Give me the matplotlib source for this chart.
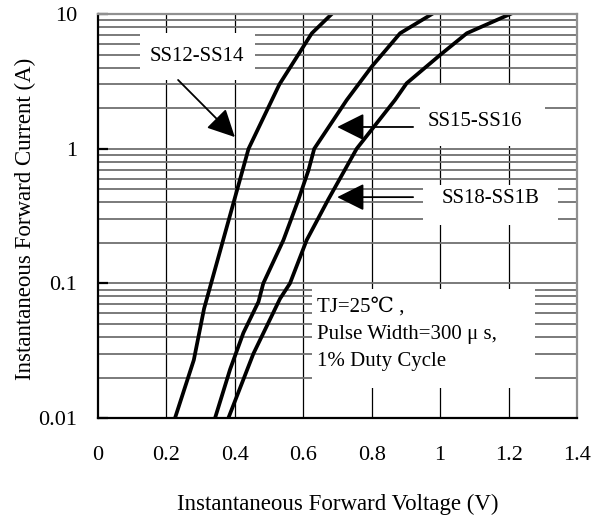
import matplotlib
matplotlib.use("Agg")
import matplotlib.pyplot as plt
from matplotlib.patches import Rectangle
import numpy as np

plt.rcParams['font.family'] = ['Liberation Serif', 'DejaVu Serif']

# ---- data ----
ss12_v = [0.225, 0.28, 0.31, 0.44, 0.53, 0.625, 0.683]
ss12_i = [0.01, 0.027, 0.065, 1.0, 3.0, 7.2, 10.0]

ss15_v = [0.342, 0.386, 0.425, 0.469, 0.483, 0.542, 0.586, 0.615, 0.632, 0.727, 0.80, 0.883, 0.976]
ss15_i = [0.01, 0.023, 0.043, 0.073, 0.1, 0.21, 0.42, 0.69, 1.0, 2.3, 4.07, 7.2, 10.0]

ss18_v = [0.381, 0.454, 0.532, 0.561, 0.61, 0.673, 0.756, 0.868, 0.902, 1.0, 1.078, 1.205]
ss18_i = [0.01, 0.03, 0.077, 0.1, 0.21, 0.42, 1.0, 2.3, 3.06, 4.97, 7.2, 10.0]

x_ticks = [0, 0.2, 0.4, 0.6, 0.8, 1.0, 1.2, 1.4]
x_tick_labels = ["0", "0.2", "0.4", "0.6", "0.8", "1", "1.2", "1.4"]
y_ticks = [0.01, 0.1, 1, 10]
y_tick_labels = ["0.01", "0.1", "1", "10"]

fig = plt.figure(figsize=(5.93, 5.20), dpi=100)
ax = fig.add_axes([0.1653, 0.196, 0.8077, 0.777])
ax.set_yscale('log')
ax.set_xlim(0, 1.4)
ax.set_ylim(0.01, 10)

# grid
for xv in x_ticks[1:-1]:
    ax.axvline(xv, color='black', lw=0.9, zorder=1)
for dec in [0.01, 0.1, 1]:
    for m in range(1, 10):
        yv = dec * m
        if 0.01 < yv < 10:
            ax.axhline(yv, color='#707070', lw=1.3, zorder=1)

# label boxes (white patches hiding grid)
boxes = [(0.0877, 0.837, 0.240, 0.116),
         (0.672, 0.673, 0.261, 0.151),
         (0.678, 0.478, 0.282, 0.099),
         (0.446, 0.074, 0.466, 0.245)]
for (bx, by, bw, bh) in boxes:
    ax.add_patch(Rectangle((bx, by), bw, bh, transform=ax.transAxes,
                           facecolor='white', edgecolor='none', zorder=2))

ax.plot(ss12_v, ss12_i, color='black', lw=2.7, zorder=4, solid_joinstyle='round')
ax.plot(ss15_v, ss15_i, color='black', lw=2.7, zorder=4, solid_joinstyle='round')
ax.plot(ss18_v, ss18_i, color='black', lw=2.7, zorder=4, solid_joinstyle='round')

fs = 15
ax.text(0.289, 4.8, "SS12-SS14", ha='center', va='center', fontsize=fs, zorder=5)
ax.text(1.102, 1.58, "SS15-SS16", ha='center', va='center', fontsize=fs, zorder=5)
ax.text(1.146, 0.43, "SS18-SS1B", ha='center', va='center', fontsize=fs, zorder=5)
ax.text(0.64, 0.042, "TJ=25\u2103 ,\nPulse Width=300 \u03bc s,\n1% Duty Cycle",
        ha='left', va='center', fontsize=15, linespacing=1.6, zorder=5)

aprops = dict(arrowstyle='-|>,head_length=0.7,head_width=0.35', mutation_scale=24,
              color='black', lw=1.3, shrinkA=0, shrinkB=0)
ax.annotate("", xy=(0.40, 1.22), xytext=(0.234, 3.24), arrowprops=aprops, zorder=5)
ax.annotate("", xy=(0.699, 1.45), xytext=(0.921, 1.45), arrowprops=aprops, zorder=5)
ax.annotate("", xy=(0.699, 0.437), xytext=(0.921, 0.437), arrowprops=aprops, zorder=5)

# axes styling
ax.set_xticks(x_ticks)
ax.set_xticklabels(x_tick_labels, fontsize=16)
ax.set_yticks(y_ticks)
ax.set_yticklabels(y_tick_labels, fontsize=16)
ax.yaxis.set_minor_locator(matplotlib.ticker.NullLocator())
ax.tick_params(axis='x', length=0, pad=20)
ax.tick_params(axis='y', which='major', direction='in', length=7, width=1.6, pad=15)

for s in ['left', 'bottom']:
    ax.spines[s].set_color('black')
    ax.spines[s].set_linewidth(1.6)
for s in ['top', 'right']:
    ax.spines[s].set_color('#909090')
    ax.spines[s].set_linewidth(1.6)
for sp in ax.spines.values():
    sp.set_zorder(6)

ax.set_xlabel("Instantaneous Forward Voltage (V)", fontsize=16.5)
ax.set_ylabel("Instantaneous Forward Current (A)", fontsize=16.5)
ax.xaxis.set_label_coords(0.5, -0.188)
ax.yaxis.set_label_coords(-0.129, 0.494)

fig.savefig("out.png", dpi=100)
